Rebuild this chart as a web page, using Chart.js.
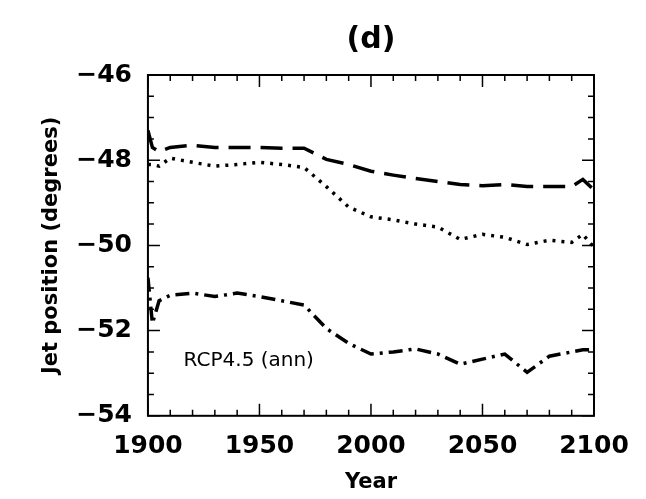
<!DOCTYPE html>
<html><head><meta charset="utf-8">
<script src="https://cdn.jsdelivr.net/npm/chart.js@4/dist/chart.umd.min.js"></script>
<style>body{margin:0;background:#fff}#wrap{width:646px;height:499px}</style>
</head><body><div id="wrap"><canvas id="c"></canvas></div>
<script>
const years = [1900,1902,1905,1910,1920,1930,1940,1950,1960,1970,1980,1990,2000,2010,2020,2030,2040,2050,2060,2070,2080,2090,2095,2100];
const dashed = [-47.3,-47.7,-47.8,-47.7,-47.65,-47.7,-47.7,-47.7,-47.72,-47.72,-47.98,-48.1,-48.26,-48.35,-48.43,-48.5,-48.57,-48.6,-48.57,-48.62,-48.62,-48.62,-48.45,-48.7];
const dotted = [-48.1,-48.1,-48.14,-47.95,-48.05,-48.14,-48.1,-48.05,-48.1,-48.17,-48.62,-49.1,-49.33,-49.4,-49.5,-49.57,-49.86,-49.74,-49.81,-49.98,-49.88,-49.93,-49.74,-50.05];
const dashDot = [-50.76,-51.83,-51.3,-51.17,-51.12,-51.2,-51.12,-51.2,-51.3,-51.4,-51.95,-52.3,-52.55,-52.5,-52.43,-52.55,-52.79,-52.67,-52.55,-52.98,-52.6,-52.5,-52.45,-52.45];
const xTicks = [1900,1950,2000,2050,2100];
const yTicks = [-46,-48,-50,-52,-54];
const pts = a => a.map((v,i)=>({x:years[i],y:v}));
const ds = (d,dash) => ({data:pts(d),borderColor:'#000',borderWidth:3.5,borderDash:dash,pointRadius:0,tension:0});
const txt = {id:'txt',afterDraw(ch){const c=ch.ctx,x=ch.scales.x,y=ch.scales.y;c.save();c.fillStyle='#000';
 c.font='20px "DejaVu Sans"';c.textBaseline='middle';c.fillText('RCP4.5 (ann)',x.getPixelForValue(1916),y.getPixelForValue(-52.7));
 c.font='bold 30px "DejaVu Sans"';c.textAlign='center';c.fillText('(d)',(x.left+x.right)/2,40);
 c.strokeStyle='#000';c.lineWidth=2;c.strokeRect(x.left,y.top,x.right-x.left,y.bottom-y.top);
 c.lineWidth=1.5;c.beginPath();
 for(let v=1900;v<=2100;v+=10){const p=x.getPixelForValue(v),L=v%50===0?12:6;c.moveTo(p,y.bottom);c.lineTo(p,y.bottom-L);c.moveTo(p,y.top);c.lineTo(p,y.top+L);}
 for(let v=-54;v<=-46;v+=0.5){const p=y.getPixelForValue(v),L=v%2===0?12:6;c.moveTo(x.left,p);c.lineTo(x.left+L,p);c.moveTo(x.right,p);c.lineTo(x.right-L,p);}
 c.stroke();c.restore();}};
new Chart(document.getElementById('c'),{type:'line',
 data:{datasets:[ds(dashed,[22,10]),ds(dotted,[3,6]),ds(dashDot,[14,6,3,6])]},
 options:{responsive:true,maintainAspectRatio:false,animation:false,layout:{padding:{top:75,right:52,left:35,bottom:0}},
 plugins:{legend:{display:false},tooltip:{enabled:false}},
 scales:{
  x:{type:'linear',min:1900,max:2100,afterBuildTicks:a=>{a.ticks=xTicks.map(v=>({value:v}))},
   grid:{display:false},border:{display:false},ticks:{color:'#000',font:{size:25,weight:'bold',family:'DejaVu Sans'},maxRotation:0,padding:8,callback:v=>String(v)},
   title:{display:true,text:'Year',color:'#000',font:{size:21,weight:'bold',family:'DejaVu Sans'},padding:{top:0}}},
  y:{min:-54,max:-46,afterBuildTicks:a=>{a.ticks=yTicks.map(v=>({value:v}))},
   grid:{display:false},border:{display:false},ticks:{color:'#000',font:{size:25,weight:'bold',family:'DejaVu Sans'},padding:8,callback:v=>'\u2212'+Math.abs(v)},
   title:{display:true,text:'Jet position (degrees)',color:'#000',font:{size:21,weight:'bold',family:'DejaVu Sans'},padding:{bottom:4}}}}},
 plugins:[txt]});
</script></body></html>
